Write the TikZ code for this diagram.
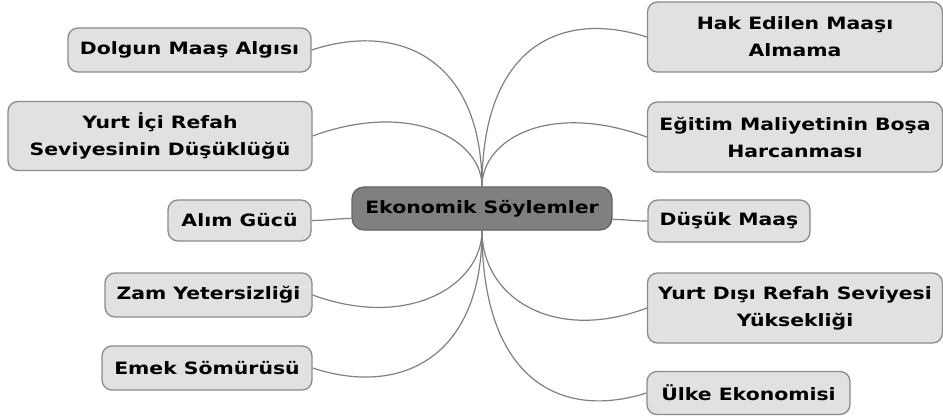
\documentclass[tikz,border=0pt]{standalone}
\usepackage{fontspec}
\newfontfamily\nodefont{DejaVu Sans Bold}[FakeStretch=1.2]
\definecolor{leaffill}{HTML}{E1E1E1}
\definecolor{leafborder}{HTML}{8A8A8A}
\definecolor{rootfill}{HTML}{808080}
\definecolor{rootborder}{HTML}{646464}
\definecolor{linecol}{HTML}{808080}
\tikzset{
  leaf/.style={draw=leafborder, fill=leaffill, rounded corners=10pt, line width=1.3pt,
    align=center, inner sep=0pt, font=\nodefont\fontsize{17}{27}\selectfont},
  root/.style={draw=rootborder, fill=rootfill, rounded corners=12pt, line width=1.3pt,
    align=center, inner sep=0pt, font=\nodefont\fontsize{17}{27}\selectfont},
  conn/.style={draw=linecol, line width=1.2pt}
}
\begin{document}
\begin{tikzpicture}[x=1pt,y=-1pt]
\useasboundingbox (0,0) rectangle (943,417);
% root
\node[root, minimum width=260pt, minimum height=43pt] (c) at (482,208.5) {Ekonomik Söylemler};
% left
\node[leaf, minimum width=243pt, minimum height=44pt] (dolgun) at (189.5,50) {Dolgun Maaş Algısı};
\node[leaf, minimum width=304pt, minimum height=69pt] (yurtici) at (160,136) {Yurt İçi Refah\\Seviyesinin Düşüklüğü};
\node[leaf, minimum width=143pt, minimum height=41pt] (alim) at (239.5,220.5) {Alım Gücü};
\node[leaf, minimum width=207pt, minimum height=44pt] (zam) at (208.5,295) {Zam Yetersizliği};
\node[leaf, minimum width=210pt, minimum height=44pt] (emek) at (207,368) {Emek Sömürüsü};
% right
\node[leaf, minimum width=295pt, minimum height=70pt] (hak) at (795,37) {Hak Edilen Maaşı\\Almama};
\node[leaf, minimum width=295pt, minimum height=70pt] (egitim) at (795,137) {Eğitim Maliyetinin Boşa\\Harcanması};
\node[leaf, minimum width=162pt, minimum height=42pt] (dusuk) at (729,221) {Düşük Maaş};
\node[leaf, minimum width=295pt, minimum height=70pt] (yurtdisi) at (795,308) {Yurt Dışı Refah Seviyesi\\Yüksekliği};
\node[leaf, minimum width=203pt, minimum height=43pt] (ulke) at (748.5,393) {Ülke Ekonomisi};
% anchor points on the root for the side connectors
\coordinate (cw) at ([yshift=-10pt]c.west);
\coordinate (ce) at ([yshift=-11pt]c.east);
% connectors
\draw[conn] (c.north) .. controls +(0,-127) and +(88,-29) .. (dolgun.east);
\draw[conn] (c.north) .. controls +(0,-47) and +(98,-36) .. (yurtici.east);
\draw[conn] (c.north) .. controls +(0,-138) and +(-88,-28) .. (hak.west);
\draw[conn] (c.north) .. controls +(0,-47) and +(-98,-36) .. (egitim.west);
\draw[conn] (cw) .. controls +(-15,0) and +(15,0) .. (alim.east);
\draw[conn] (ce) .. controls +(15,0) and +(-15,0) .. (dusuk.west);
\draw[conn] (c.south) .. controls +(0,55) and +(95,35) .. (zam.east);
\draw[conn] (c.south) .. controls +(0,127) and +(88,29) .. (emek.east);
\draw[conn] (c.south) .. controls +(0,68) and +(-92,35) .. (yurtdisi.west);
\draw[conn] (c.south) .. controls +(0,150) and +(-85,27) .. (ulke.west);
\end{tikzpicture}
\end{document}
